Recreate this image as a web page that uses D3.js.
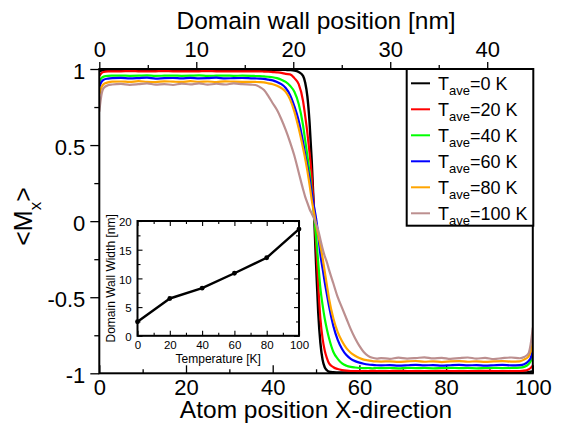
<!DOCTYPE html>
<html><head><meta charset="utf-8">
<script src="https://cdn.jsdelivr.net/npm/d3@7"></script>
<style>html,body{margin:0;padding:0;background:#fff;} svg{display:block;font-family:"Liberation Sans",Arial,Helvetica,sans-serif;}</style>
</head><body><svg id="c" width="562" height="424"></svg>
<script>
// ---- data ----
const atomPos = [0,0.5,1,2,3,5,7,9,11,13,15,17,19,21,23,25,27,29,31,33,35,36,37,38,39,40,41,42,43,44,45,46,47,47.5,48,48.5,49,49.5,50,50.5,51,51.5,52,52.5,53,54,55,56,57,58,59,60,61,62,63,64,65,67,69,71,73,75,77,79,81,83,85,87,89,91,93,95,97,98,99,99.5,100];
const mxT0 = [0.985,0.99,0.993,0.995,0.995,
 0.995,0.995,0.995,0.995,0.995,0.995,0.995,0.995,0.995,0.995,0.995,0.995,0.995,0.995,0.995,
 0.995,0.995,0.995,0.995,0.995,0.995,0.995,0.995,0.994,0.993,0.99,0.98,0.955,
 0.91,0.82,0.65,0.40,0.08,-0.28,-0.60,-0.80,-0.91,-0.96,-0.98,-0.99,
 -0.993,-0.994,-0.995,-0.995,-0.995,-0.995,-0.995,-0.995,-0.995,-0.995,-0.995,-0.995,
 -0.995,-0.995,-0.995,-0.995,-0.995,-0.995,-0.995,-0.995,-0.995,-0.995,-0.995,-0.995,-0.995,-0.995,-0.995,-0.995,
 -0.995,-0.993,-0.99,-0.985];
const mxT20 = [0.955,0.972,0.98,0.984,0.985,
 0.985,0.986,0.985,0.984,0.985,0.986,0.985,0.985,0.984,0.985,0.986,0.985,0.985,0.984,0.985,
 0.985,0.984,0.984,0.983,0.982,0.98,0.978,0.975,0.968,0.965,0.94,0.90,0.79,
 0.69,0.58,0.45,0.30,0.10,-0.15,-0.42,-0.64,-0.77,-0.85,-0.90,-0.935,
 -0.96,-0.972,-0.979,-0.983,-0.985,-0.985,-0.986,-0.985,-0.985,-0.984,-0.985,-0.986,
 -0.985,-0.984,-0.985,-0.986,-0.985,-0.985,-0.984,-0.985,-0.986,-0.985,-0.985,-0.984,-0.985,-0.985,-0.986,-0.985,
 -0.983,-0.975,-0.965,-0.95];
const mxT40 = [0.915,0.94,0.95,0.955,0.956,
 0.957,0.955,0.956,0.958,0.955,0.956,0.957,0.955,0.956,0.958,0.955,0.956,0.957,0.955,0.956,
 0.955,0.954,0.953,0.951,0.949,0.946,0.94,0.93,0.915,0.89,0.85,0.77,0.63,
 0.53,0.43,0.32,0.20,0.06,-0.10,-0.27,-0.44,-0.55,-0.64,-0.71,-0.77,
 -0.86,-0.905,-0.935,-0.95,-0.958,-0.962,-0.965,-0.966,-0.965,-0.967,-0.965,-0.966,
 -0.965,-0.967,-0.964,-0.966,-0.965,-0.967,-0.965,-0.964,-0.966,-0.965,-0.967,-0.965,-0.964,-0.966,-0.965,-0.963,
 -0.958,-0.94,-0.92,-0.89];
const mxT60 = [0.88,0.915,0.93,0.937,0.94,
 0.942,0.938,0.94,0.943,0.937,0.94,0.941,0.938,0.942,0.939,0.94,0.943,0.938,0.94,0.941,
 0.939,0.938,0.937,0.935,0.93,0.925,0.915,0.90,0.875,0.83,0.755,0.66,0.52,
 0.44,0.36,0.28,0.19,0.10,0.02,-0.09,-0.22,-0.31,-0.40,-0.48,-0.56,
 -0.69,-0.78,-0.84,-0.88,-0.905,-0.92,-0.93,-0.937,-0.942,-0.945,-0.947,-0.948,
 -0.946,-0.949,-0.947,-0.944,-0.948,-0.946,-0.95,-0.947,-0.945,-0.948,-0.946,-0.949,-0.947,-0.945,-0.948,-0.946,
 -0.94,-0.92,-0.90,-0.85];
const mxT80 = [0.83,0.88,0.90,0.912,0.917,
 0.918,0.915,0.92,0.916,0.914,0.919,0.917,0.915,0.92,0.916,0.918,0.914,0.919,0.917,0.916,
 0.916,0.915,0.914,0.912,0.906,0.90,0.89,0.875,0.85,0.80,0.72,0.61,0.48,
 0.41,0.33,0.24,0.14,0.06,-0.02,-0.09,-0.16,-0.24,-0.33,-0.42,-0.51,
 -0.64,-0.73,-0.79,-0.835,-0.865,-0.885,-0.90,-0.91,-0.915,-0.92,-0.922,-0.923,
 -0.921,-0.925,-0.922,-0.919,-0.924,-0.921,-0.926,-0.922,-0.92,-0.924,-0.921,-0.925,-0.922,-0.92,-0.923,-0.921,
 -0.91,-0.89,-0.86,-0.80];
const mxT100 = [0.72,0.83,0.875,0.893,0.898,
 0.902,0.896,0.90,0.906,0.897,0.901,0.895,0.904,0.899,0.906,0.897,0.903,0.898,0.905,0.90,
 0.897,0.895,0.882,0.862,0.822,0.775,0.73,0.67,0.60,0.52,0.43,0.32,0.21,
 0.16,0.12,0.08,0.05,0.02,-0.02,-0.06,-0.12,-0.18,-0.23,-0.27,-0.32,
 -0.41,-0.50,-0.57,-0.64,-0.71,-0.77,-0.82,-0.86,-0.885,-0.898,-0.903,-0.90,
 -0.905,-0.897,-0.903,-0.90,-0.895,-0.902,-0.898,-0.905,-0.90,-0.896,-0.903,-0.899,-0.906,-0.90,-0.896,-0.901,
 -0.893,-0.87,-0.81,-0.70];
const seriesTemps = ["0","20","40","60","80","100"];
const seriesValues = [mxT0, mxT20, mxT40, mxT60, mxT80, mxT100];
const seriesColors = ["#000000","#ff0000","#00ff00","#0000ff","#ffa500","#bc8f8f"];

const wallPosMax = 44.7; // nm at atom 100
const xMajor = [0,20,40,60,80,100], xMinor = [10,30,50,70,90];
const yMajor = [-1,-0.5,0,0.5,1], yMinor = [-0.75,-0.25,0.25,0.75];
const topMajor = [0,10,20,30,40], topMinor = [5,15,25,35];

const insetTemp = [0,20,40,60,80,100];
const insetWidth = [2.45,6.5,8.3,10.9,13.6,18.6];
const insetXMajor = [0,20,40,60,80,100], insetXMinor = [10,30,50,70,90];
const insetYMajor = [0,5,10,15,20], insetYMinor = [2.5,7.5,12.5,17.5];

// ---- drawing ----
const svg = d3.select("#c");
const M = {l:99.3, r:532.8, t:69, b:373.3};
const x = d3.scaleLinear().domain([0,100]).range([M.l,M.r]);
const xt = d3.scaleLinear().domain([0,wallPosMax]).range([M.l,M.r]);
const y = d3.scaleLinear().domain([-1,1]).range([M.b,M.t]);
const FONT = '"Liberation Sans",Arial,Helvetica,sans-serif';

function styleAxis(g, fs){
  g.select(".domain").remove();
  g.attr("font-family", FONT).attr("font-size", fs);
  g.selectAll("line").attr("stroke","#000").attr("stroke-width",1.3);
  g.selectAll("text").attr("fill","#000");
}

svg.append("defs").append("clipPath").attr("id","pc").append("rect")
  .attr("x",M.l).attr("y",M.t-3).attr("width",M.r-M.l).attr("height",M.b-M.t+6);

// axes main
svg.append("g").attr("transform",`translate(0,${M.b})`)
  .call(d3.axisBottom(x).tickValues(xMajor).tickSizeInner(-8).tickSizeOuter(0).tickPadding(6).tickFormat(d3.format("d")))
  .call(g=>styleAxis(g,22));
svg.append("g").attr("transform",`translate(0,${M.b})`)
  .call(d3.axisBottom(x).tickValues(xMinor).tickSizeInner(-4).tickSizeOuter(0).tickFormat(""))
  .call(g=>styleAxis(g,22));
svg.append("g").attr("transform",`translate(${M.l},0)`)
  .call(d3.axisLeft(y).tickValues(yMajor).tickSizeInner(9).tickSizeOuter(0).tickPadding(5).tickFormat(d=>String(d)))
  .call(g=>{styleAxis(g,22); g.selectAll("text").attr("dy","0.43em");});
svg.append("g").attr("transform",`translate(${M.l},0)`)
  .call(d3.axisLeft(y).tickValues(yMinor).tickSizeInner(5).tickSizeOuter(0).tickFormat(""))
  .call(g=>styleAxis(g,22));
svg.append("g").attr("transform",`translate(0,${M.t})`)
  .call(d3.axisTop(xt).tickValues(topMajor).tickSizeInner(7).tickSizeOuter(0).tickPadding(5).tickFormat(d3.format("d")))
  .call(g=>styleAxis(g,22));
svg.append("g").attr("transform",`translate(0,${M.t})`)
  .call(d3.axisTop(xt).tickValues(topMinor).tickSizeInner(4).tickSizeOuter(0).tickFormat(""))
  .call(g=>styleAxis(g,22));

// lines
const line = d3.line().x(d=>x(d[0])).y(d=>y(d[1])).curve(d3.curveMonotoneX);
const lg = svg.append("g").attr("clip-path","url(#pc)");
seriesValues.forEach((vals,i)=>{
  lg.append("path").datum(atomPos.map((a,j)=>[a,vals[j]]))
    .attr("d",line).attr("fill","none").attr("stroke",seriesColors[i])
    .attr("stroke-width", i===0?2.4:2.2).attr("stroke-linejoin","round");
});

// frame
svg.append("rect").attr("x",M.l).attr("y",M.t).attr("width",M.r-M.l).attr("height",M.b-M.t)
  .attr("fill","none").attr("stroke","#000").attr("stroke-width",2);

// titles
svg.append("text").attr("x",(M.l+M.r)/2).attr("y",28.5).attr("text-anchor","middle")
  .attr("font-size",24.5).text("Domain wall position [nm]");
svg.append("text").attr("x",(M.l+M.r)/2).attr("y",417.5).attr("text-anchor","middle")
  .attr("font-size",24.5).text("Atom position X-direction");
const yt = svg.append("text").attr("transform","translate(32,216.5) rotate(-90)")
  .attr("text-anchor","middle").attr("font-size",25);
yt.append("tspan").text("<M");
yt.append("tspan").attr("font-size",17).attr("dy",9).text("x");
yt.append("tspan").attr("dy",-9).text(">");

// legend
const L = {x:406.7, y:69, w:126.6, h:156.7};
svg.append("rect").attr("x",L.x).attr("y",L.y).attr("width",L.w).attr("height",L.h)
  .attr("fill","#fff").attr("stroke","#000").attr("stroke-width",2);
seriesTemps.forEach((t,i)=>{
  const cy = 83.3 + 26*i;
  svg.append("line").attr("x1",411).attr("x2",430).attr("y1",cy).attr("y2",cy)
    .attr("stroke",seriesColors[i]).attr("stroke-width",2);
  const tx = svg.append("text").attr("x",438).attr("y",cy+6.7).attr("font-size",18);
  tx.append("tspan").text("T");
  tx.append("tspan").attr("font-size",13).attr("dy",5).text("ave");
  tx.append("tspan").attr("dy",-5).text("=" + t + " K");
});

// inset
const I = {l:137.5, r:299, t:221, b:335.8};
const xi = d3.scaleLinear().domain([0,100]).range([I.l,I.r]);
const yi = d3.scaleLinear().domain([0,20]).range([I.b,I.t]);
svg.append("rect").attr("x",I.l).attr("y",I.t).attr("width",I.r-I.l).attr("height",I.b-I.t).attr("fill","#fff");
function inAxis(ax, tr, vals, size, fmt, pad){
  return svg.append("g").attr("transform",tr)
    .call(ax.tickValues(vals).tickSizeInner(size).tickSizeOuter(0).tickPadding(pad||0).tickFormat(fmt||""))
    .call(g=>{styleAxis(g,11.5); g.selectAll("line").attr("stroke-width",1.1);});
}
inAxis(d3.axisBottom(xi), `translate(0,${I.b})`, insetXMajor, -5, d3.format("d"), 5.3);
inAxis(d3.axisBottom(xi), `translate(0,${I.b})`, insetXMinor, -3);
inAxis(d3.axisTop(xi), `translate(0,${I.t})`, insetXMajor, -5);
inAxis(d3.axisTop(xi), `translate(0,${I.t})`, insetXMinor, -3);
inAxis(d3.axisLeft(yi), `translate(${I.l},0)`, insetYMajor, -5, d3.format("d"), 5.8)
  .call(g=>g.selectAll("text").attr("dy","0.42em"));
inAxis(d3.axisLeft(yi), `translate(${I.l},0)`, insetYMinor, -3);
inAxis(d3.axisRight(yi), `translate(${I.r},0)`, insetYMajor, -5);
inAxis(d3.axisRight(yi), `translate(${I.r},0)`, insetYMinor, -3);

const iline = d3.line().x(d=>xi(d[0])).y(d=>yi(d[1]));
const ipts = insetTemp.map((t,j)=>[t,insetWidth[j]]);
svg.append("path").datum(ipts).attr("d",iline).attr("fill","none")
  .attr("stroke","#000").attr("stroke-width",2.4).attr("stroke-linejoin","round");
svg.selectAll("circle.ip").data(ipts).enter().append("circle").attr("class","ip")
  .attr("cx",d=>xi(d[0])).attr("cy",d=>yi(d[1])).attr("r",2.4).attr("fill","#000");
svg.append("rect").attr("x",I.l).attr("y",I.t).attr("width",I.r-I.l).attr("height",I.b-I.t)
  .attr("fill","none").attr("stroke","#000").attr("stroke-width",2);
svg.append("text").attr("x",(I.l+I.r)/2).attr("y",363.3).attr("text-anchor","middle")
  .attr("font-size",12).text("Temperature [K]");
svg.append("text").attr("transform",`translate(114.5,${(I.t+I.b)/2}) rotate(-90)`)
  .attr("text-anchor","middle").attr("font-size",12).text("Domain Wall Width [nm]");
</script></body></html>
